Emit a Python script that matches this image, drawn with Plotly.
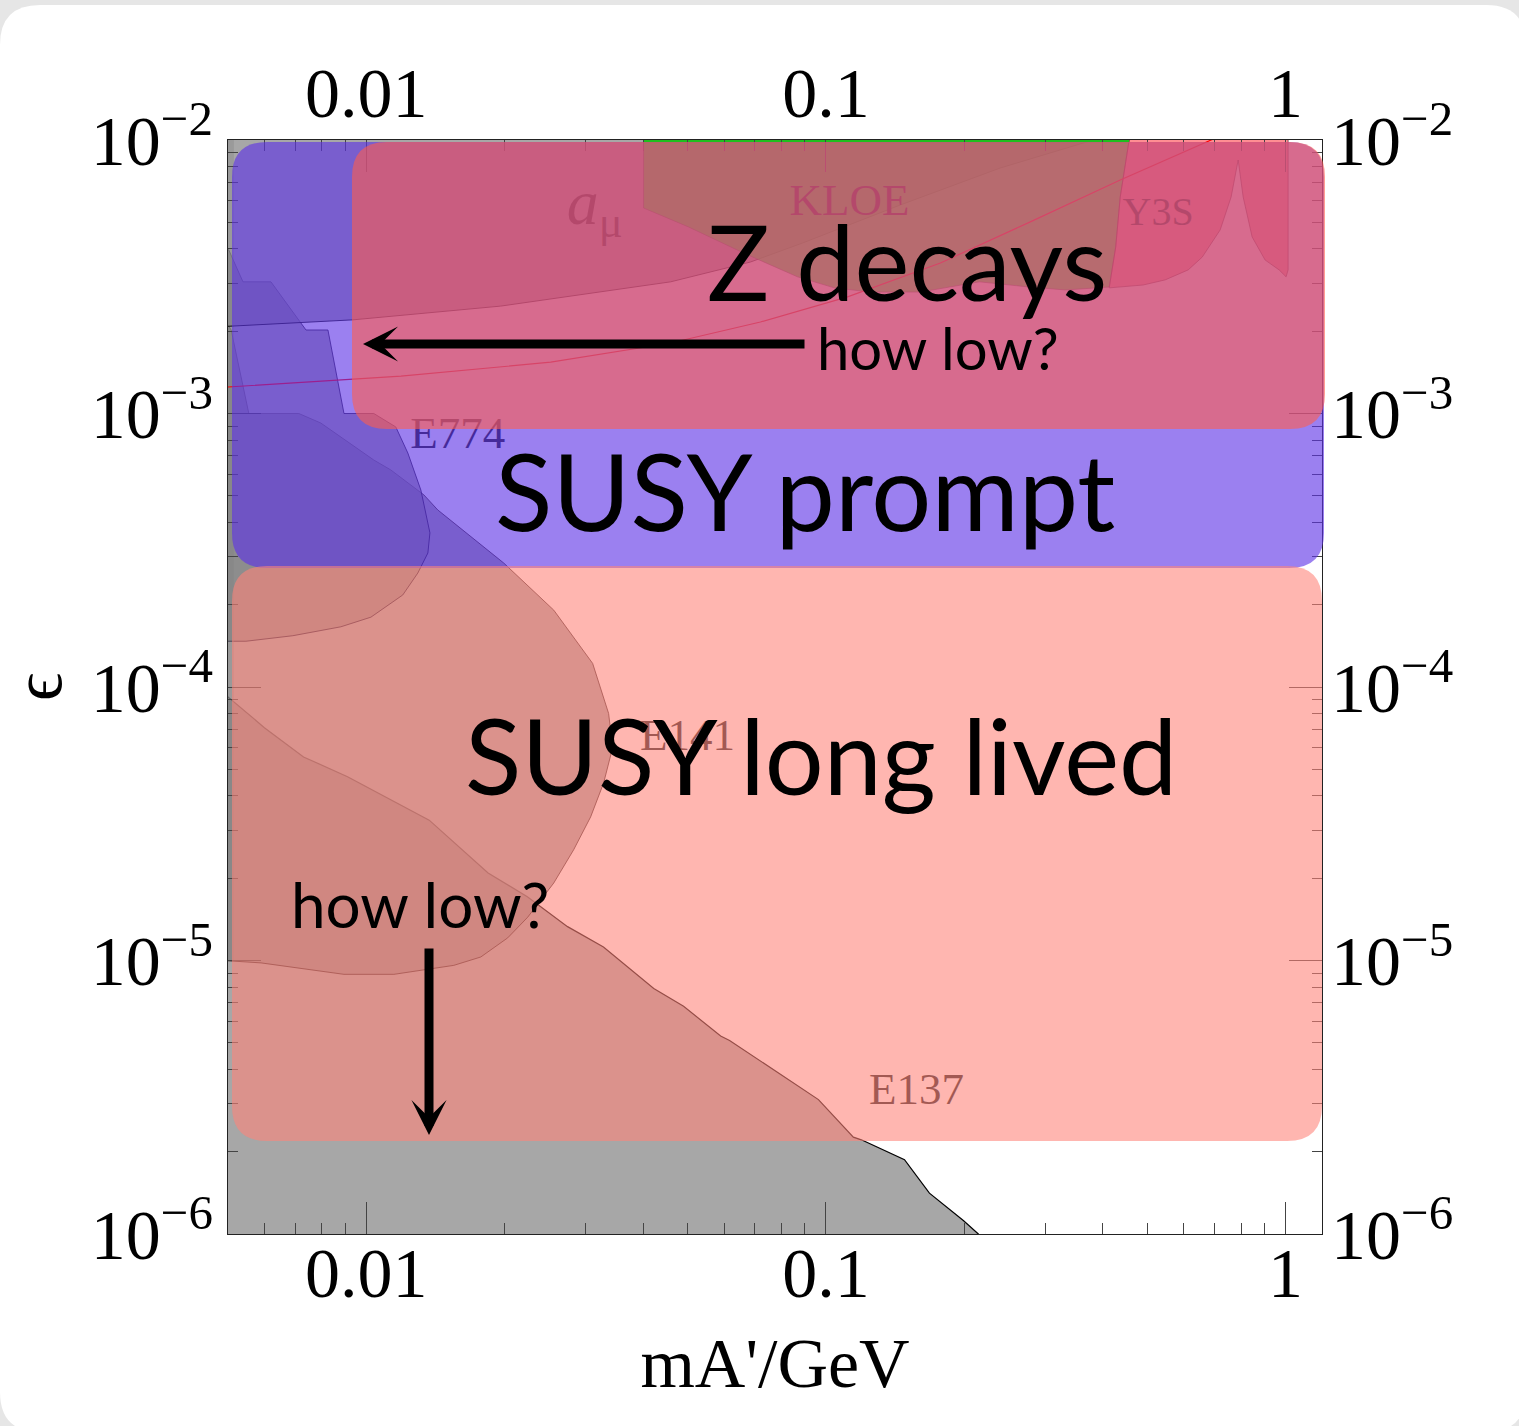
import math
import plotly.graph_objects as go

# ---------------- exclusion regions: dark-photon mass (GeV) vs kinetic mixing epsilon ----------------
e137_m = [0.0047, 0.0050, 0.0060, 0.0073, 0.0091, 0.0137, 0.0184, 0.0224, 0.0274, 0.0328, 0.0422,
          0.0490, 0.0590, 0.0617, 0.0963, 0.1147, 0.1194, 0.1482, 0.1679, 0.1990, 0.2145, 0.23, 0.23, 0.0047]
e137_eps = [9.8e-5, 9.2e-5, 7.1e-5, 5.55e-5, 4.7e-5, 3.26e-5, 2.09e-5, 1.71e-5, 1.33e-5, 1.12e-5, 7.9e-6,
            6.8e-6, 5.3e-6, 5.1e-6, 3.1e-6, 2.26e-6, 2.21e-6, 1.87e-6, 1.41e-6, 1.12e-6, 1.0e-6, 8.6e-7, 5e-7, 5e-7]

e141_m = [0.0049, 0.00508, 0.00555, 0.00713, 0.00796, 0.01038, 0.0113, 0.01334, 0.0143, 0.0199, 0.02557,
          0.03107, 0.03366, 0.03434, 0.03283, 0.03076, 0.02825, 0.02557, 0.02244, 0.0203, 0.01774, 0.0155,
          0.01148, 0.00894, 0.0059, 0.0049]
e141_eps = [0.00223, 0.00202, 0.001, 0.001, 0.000923, 0.000676, 0.000622, 0.000504, 0.000444, 0.000284, 0.000191,
            0.000122, 8.0e-5, 6.0e-5, 4.46e-5, 3.35e-5, 2.54e-5, 1.92e-5, 1.44e-5, 1.21e-5, 1.03e-5, 9.6e-6,
            8.9e-6, 8.9e-6, 9.8e-6, 1.0e-5]

e774_m = [0.0049, 0.00502, 0.00539, 0.0062, 0.00739, 0.00825, 0.00894, 0.01038, 0.01159, 0.01231, 0.01314,
          0.01375, 0.01361, 0.01294, 0.0120, 0.01023, 0.0088, 0.00692, 0.00547, 0.0049]
e774_eps = [0.0041, 0.00396, 0.00303, 0.00303, 0.00202, 0.00202, 0.001, 0.001, 0.000893, 0.000717, 0.000525,
            0.000366, 0.000309, 0.000261, 0.000217, 0.00018, 0.000166, 0.000154, 0.000147, 0.000147]

ae_m = [0.0049, 0.00515, 0.00515, 0.0049]
ae_eps = [1e-5, 1e-5, 0.012, 0.012]

amu_m = [0.0049, 0.00935, 0.0196, 0.03575, 0.04592, 0.0685, 0.0889, 0.1452, 0.2394, 0.3816, 0.40, 0.40, 0.0049]
amu_eps = [0.00208, 0.0022, 0.00247, 0.00285, 0.00303, 0.00358, 0.0042, 0.00579, 0.0079, 0.01, 0.0105, 0.012, 0.012]

amu_band_m = [0.0045, 0.005, 0.01189, 0.02518, 0.04592, 0.0720, 0.1114, 0.1774, 0.2783, 0.4367, 0.6887, 0.7963]
amu_band_eps = [0.00124, 0.00125, 0.00137, 0.00154, 0.00181, 0.00216, 0.00267, 0.00355, 0.00502, 0.00714, 0.01, 0.0112]

kloe_m = [0.0401, 0.0401, 0.0502, 0.0662, 0.0867, 0.1043, 0.1250, 0.1605, 0.2157, 0.2769, 0.3317,
          0.4133, 0.4269, 0.4367, 0.4567, 0.46]
kloe_eps = [0.0106, 0.00564, 0.00481, 0.00386, 0.00316, 0.00288, 0.00278, 0.00278, 0.00303, 0.0029, 0.00283,
            0.0029, 0.00406, 0.00619, 0.01, 0.0106]
kloe_top_m = [0.0401, 0.4567]
kloe_top_eps = [0.01, 0.01]

y3s_m = [0.4567, 0.4367, 0.4269, 0.4133, 0.4899, 0.547, 0.6138, 0.6585, 0.7205, 0.7612, 0.7885, 0.8085,
         0.8456, 0.9025, 0.9681, 1.0025, 1.0126, 1.0126, 0.4567]
y3s_eps = [0.01, 0.00619, 0.00406, 0.00288, 0.00295, 0.00308, 0.00335, 0.00373, 0.00469, 0.00619, 0.00845,
           0.00619, 0.00442, 0.00364, 0.00335, 0.00316, 0.00335, 0.0106, 0.0106]

# region labels
label_text = ["<i>a</i><sub>μ</sub>", "KLOE", "Y3S", "E774", "E141", "E137"]
label_m = [0.0314, 0.1125, 0.528, 0.0158, 0.050, 0.1573]
label_eps = [0.00564, 0.00583, 0.00532, 0.00082, 6.46e-5, 3.28e-6]
label_size = [64, 45, 40, 45, 45, 45]

# axis ticks
x_major = [0.01, 0.1, 1]
x_major_text = ["0.01", "0.1", "1"]
x_minor = [k * 10.0 ** e for e in (-3, -2, -1, 0) for k in range(2, 10)]
y_major = [1e-6, 1e-5, 1e-4, 1e-3, 1e-2]
y_major_text = ["10<sup>−6</sup>", "10<sup>−5</sup>", "10<sup>−4</sup>", "10<sup>−3</sup>", "10<sup>−2</sup>"]
y_minor = [k * 10.0 ** e for e in (-6, -5, -4, -3) for k in range(2, 10)]

# ---------------- figure geometry ----------------
W, H = 1519, 1426
L, R, T, B = 228, 197, 140, 192
PW, PH = W - L - R, H - T - B


def px_x(x):
    return (x - L) / PW


def px_y(y):
    return (H - B - y) / PH


def rounded_rect(x0, y0, x1, y1, r):
    """Rounded rectangle path in paper coordinates from pixel corners."""
    a, b, c, d = px_x(x0), px_y(y0), px_x(x1), px_y(y1)
    rx, ry = r / PW, r / PH
    return (f"M {a + rx},{b} L {c - rx},{b} Q {c},{b} {c},{b - ry} "
            f"L {c},{d + ry} Q {c},{d} {c - rx},{d} L {a + rx},{d} Q {a},{d} {a},{d + ry} "
            f"L {a},{b - ry} Q {a},{b} {a + rx},{b} Z")


SERIF = "Liberation Serif, Times New Roman, serif"
SANS = "Lato, Open Sans, sans-serif"
REGION_FILL = "rgba(130,130,130,0.7)"

fig = go.Figure()


def region(m, eps, fill, line_color="rgba(0,0,0,0.9)", width=1):
    fig.add_trace(go.Scatter(x=m, y=eps, mode="lines", fill="toself", fillcolor=fill,
                             line=dict(color=line_color, width=width), hoverinfo="skip", showlegend=False))


region(e137_m, e137_eps, REGION_FILL, "black", 1.2)
region(e141_m, e141_eps, REGION_FILL, "rgba(40,20,20,0.8)", 1)
region(e774_m, e774_eps, REGION_FILL, "rgba(20,10,40,0.8)", 1)
region(ae_m, ae_eps, "rgba(130,130,130,0.35)", "rgba(0,0,0,0)", 0)
region(amu_m, amu_eps, REGION_FILL, "rgba(0,0,0,0.9)", 1)
region(kloe_m, kloe_eps, "rgba(0,255,0,0.8)", "rgba(60,60,60,0.6)", 1)
region(y3s_m, y3s_eps, "rgba(255,30,40,0.5)", "rgba(60,0,20,0.6)", 1)

fig.add_trace(go.Scatter(x=amu_band_m, y=amu_band_eps, mode="lines", line=dict(color="red", width=1.2),
                         hoverinfo="skip", showlegend=False))
fig.add_trace(go.Scatter(x=kloe_top_m, y=kloe_top_eps, mode="lines", line=dict(color="#1fbf1f", width=5),
                         hoverinfo="skip", showlegend=False))

fig.add_trace(go.Scatter(x=label_m, y=label_eps, mode="text", text=label_text, textposition="middle center",
                         textfont=dict(family=SERIF, size=label_size, color="rgb(30,30,30)"),
                         hoverinfo="skip", showlegend=False))

# carrier for the top / right label axes
fig.add_trace(go.Scatter(x=[0.1], y=[1e-4], xaxis="x2", yaxis="y2", mode="markers",
                         marker=dict(opacity=0), hoverinfo="skip", showlegend=False))

# ---------------- overlay boxes ----------------
shapes = [
    dict(type="path", xref="paper", yref="paper", layer="below",
         path=rounded_rect(0, 5, 1526, 1432, 40), fillcolor="white", line=dict(width=0)),
    dict(type="path", xref="paper", yref="paper", layer="above",
         path=rounded_rect(232, 142, 1324, 568, 35), fillcolor="rgb(93,50,230)", opacity=0.62,
         line=dict(width=0)),
    dict(type="path", xref="paper", yref="paper", layer="above",
         path=rounded_rect(352, 142, 1325, 429, 35), fillcolor="rgb(255,93,77)", opacity=0.6,
         line=dict(width=0)),
    dict(type="path", xref="paper", yref="paper", layer="above",
         path=rounded_rect(232, 566, 1322, 1141, 35), fillcolor="rgb(255,131,121)", opacity=0.59,
         line=dict(width=0)),
]

annotations = [
    dict(text="ϵ", x=px_x(37), y=0.5, textangle=-90, font=dict(family=SERIF, size=70, color="black")),
    dict(text="Z decays", x=px_x(907), y=px_y(260), font=dict(family=SANS, size=104, color="black")),
    dict(text="how low?", x=px_x(938), y=px_y(347), font=dict(family=SANS, size=58, color="black")),
    dict(text="SUSY prompt", x=px_x(805), y=px_y(490), font=dict(family=SANS, size=106, color="black")),
    dict(text="SUSY long lived", x=px_x(821), y=px_y(755), font=dict(family=SANS, size=104, color="black")),
    dict(text="how low?", x=px_x(420), y=px_y(904), font=dict(family=SANS, size=62, color="black")),
    dict(text="", x=px_x(363), y=px_y(344), showarrow=True, axref="pixel", ayref="pixel", ax=443, ay=0,
         arrowhead=3, arrowsize=0.65, arrowwidth=9, arrowcolor="black", standoff=0),
    dict(text="", x=px_x(429), y=px_y(1135), showarrow=True, axref="pixel", ayref="pixel", ax=0, ay=-188,
         arrowhead=3, arrowsize=0.65, arrowwidth=9, arrowcolor="black", standoff=0),
]
for a in annotations:
    a.setdefault("xref", "paper")
    a.setdefault("yref", "paper")
    a.setdefault("showarrow", False)
    a.setdefault("xanchor", "center")
    a.setdefault("yanchor", "middle")

tick_font = dict(family=SERIF, size=70, color="black")
x_range = [math.log10(0.005), math.log10(1.2)]
y_range = [-6, -2]

fig.update_layout(
    width=W, height=H,
    margin=dict(l=L, r=R, t=T, b=B, pad=0, autoexpand=False),
    paper_bgcolor="#e6e6e6",
    plot_bgcolor="white",
    shapes=shapes,
    annotations=annotations,
    xaxis=dict(type="log", range=x_range, tickmode="array", tickvals=x_major, ticktext=x_major_text,
               ticks="inside", ticklen=32, tickwidth=1, tickcolor="#444", ticklabelstandoff=-22,
               minor=dict(tickmode="array", tickvals=x_minor, ticks="inside", ticklen=11, tickwidth=1,
                          tickcolor="#444", showgrid=False),
               showline=True, linecolor="#222", linewidth=1.2, mirror="allticks", showgrid=False,
               zeroline=False, tickfont=tick_font, automargin=False,
               title=dict(text="mA'/GeV", font=dict(family=SERIF, size=70, color="black"), standoff=26)),
    xaxis2=dict(type="log", range=x_range, overlaying="x", side="top", anchor="y", tickmode="array",
                tickvals=x_major, ticktext=x_major_text, ticks="", showline=False, showgrid=False,
                zeroline=False, tickfont=tick_font, ticklabelstandoff=8, automargin=False),
    yaxis=dict(type="log", range=y_range, tickmode="array", tickvals=y_major, ticktext=y_major_text,
               ticks="inside", ticklen=33, tickwidth=1, tickcolor="#444",
               minor=dict(tickmode="array", tickvals=y_minor, ticks="inside", ticklen=10, tickwidth=1,
                          tickcolor="#444", showgrid=False),
               showline=True, linecolor="#222", linewidth=1.2, mirror="allticks", showgrid=False,
               zeroline=False, tickfont=tick_font, automargin=False),
    yaxis2=dict(type="log", range=y_range, overlaying="y", side="right", anchor="x", tickmode="array",
                tickvals=y_major, ticktext=y_major_text, ticks="", showline=False, showgrid=False,
                zeroline=False, tickfont=tick_font, ticklabelstandoff=8, automargin=False),
)

fig.write_html("out.html")
